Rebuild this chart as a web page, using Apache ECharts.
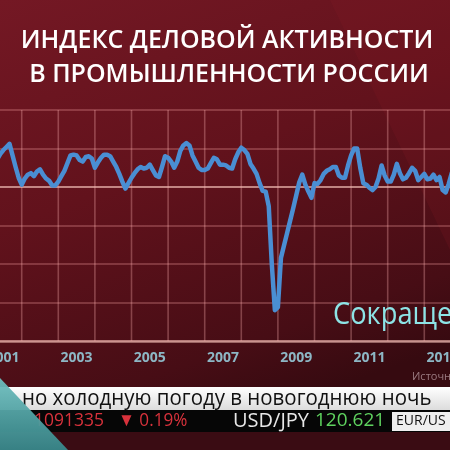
<!DOCTYPE html>
<html><head><meta charset="utf-8">
<script src="https://cdn.jsdelivr.net/npm/echarts@6/dist/echarts.min.js"></script>
<style>html,body{margin:0;padding:0;background:#5c111b}#c{width:450px;height:450px}</style>
</head><body><div id="c"></div>
<script>
// Monthly index values (50 = no change); Jan–Apr 2001 are off-screen
const startYear = 2001;
const pmi2001 = [null, null, null, null, 53.6, 54.3, 54.8, 55.2, 55.6, 54.1, 52.6, 51.2];
const pmi2002 = [50.3, 51.1, 51.6, 51.8, 51.4, 52.0, 52.3, 51.6, 51.1, 50.8, 50.2, 50.2];
const pmi2003 = [50.7, 51.4, 52.1, 53.1, 54.1, 54.2, 54.1, 53.5, 53.3, 53.9, 54.0, 53.7];
const pmi2004 = [52.5, 53.2, 53.8, 54.2, 54.2, 54.0, 53.3, 52.6, 51.7, 50.7, 49.8, 50.5];
const pmi2005 = [51.2, 51.8, 52.3, 52.6, 52.4, 52.5, 52.9, 52.2, 51.5, 51.3, 52.6, 54.0];
const pmi2006 = [53.8, 53.3, 52.5, 53.3, 54.7, 55.4, 55.7, 55.4, 54.1, 53.3, 52.5, 52.2];
const pmi2007 = [52.2, 52.4, 53.1, 53.8, 53.6, 52.9, 52.9, 52.8, 52.5, 52.4, 53.6, 54.5];
const pmi2008 = [55.1, 54.8, 54.3, 53.0, 52.4, 51.7, 50.5, 49.5, 49.4, 47.5, 40.0, 34.0];
const pmi2009 = [34.4, 40.8, 42.4, 44.0, 45.6, 47.2, 48.9, 50.6, 51.6, 50.3, 49.4, 48.6];
const pmi2010 = [50.5, 50.4, 50.9, 51.7, 52.1, 52.3, 52.6, 52.6, 51.5, 51.2, 51.2, 52.8];
const pmi2011 = [54.1, 55.0, 55.0, 52.5, 50.5, 50.3, 49.9, 49.6, 50.0, 51.1, 52.8, 51.5];
const pmi2012 = [50.7, 50.7, 51.6, 53.0, 51.8, 51.0, 51.2, 51.8, 52.5, 52.1, 50.9, 51.3];
const pmi2013 = [51.7, 51.0, 51.1, 51.6, 50.9, 51.3, 49.6, 49.3, 50.4, 51.8];
const values = [].concat(pmi2001, pmi2002, pmi2003, pmi2004, pmi2005, pmi2006, pmi2007,
  pmi2008, pmi2009, pmi2010, pmi2011, pmi2012, pmi2013);

const categories = [];
for (let i = 0; i < values.length; i++) {
  const y = startYear + Math.floor(i / 12), m = i % 12 + 1;
  categories.push(y + '-' + String(m).padStart(2, '0'));
}
const labelYears = ['2001', '2003', '2005', '2007', '2009', '2011', '2013'];
const gridYears = ['2002', '2003', '2004', '2005', '2006', '2007', '2008', '2009', '2010', '2011', '2012', '2013'];
const yTicks = [30, 35, 40, 45, 50, 55, 60];

const titleLines = ['ИНДЕКС ДЕЛОВОЙ АКТИВНОСТИ', 'В ПРОМЫШЛЕННОСТИ РОССИИ'];
const overlayWord = 'Сокраще';
const sourceText = 'Источн';
const bannerText = 'но холодную погоду в новогоднюю ночь';
const tickerItems = ['1091335', '▼ 0.19%', 'USD/JPY', '120.621', 'EUR/US'];

const faint = 'rgba(255,170,170,0.26)';
const vfaint = 'rgba(255,180,180,0.32)';
const bright = 'rgba(255,205,195,0.62)';

const chart = echarts.init(document.getElementById('c'), null, {renderer: 'canvas'});
chart.setOption({
  animation: false,
  backgroundColor: {
    type: 'linear', x: 0, y: 0, x2: 0.35, y2: 1,
    colorStops: [
      {offset: 0, color: '#741824'},
      {offset: 0.45, color: '#62121c'},
      {offset: 0.85, color: '#470d15'},
      {offset: 1, color: '#360a10'}
    ]
  },
  grid: {left: -14.9, right: -1.75, top: 110, bottom: 109, containLabel: false, outerBoundsMode: 'none'},
  xAxis: {
    type: 'category', data: categories, boundaryGap: false,
    axisTick: {show: false},
    axisLine: {lineStyle: {color: bright, width: 2.5}},
    axisLabel: {
      interval: (i, v) => v.endsWith('-07') && labelYears.includes(v.slice(0, 4)),
      formatter: v => v.slice(0, 4),
      color: '#8db7c5', fontSize: 14, fontWeight: 'bold', fontFamily: 'Open Sans', margin: 10
    },
    splitLine: {show: false}
  },
  yAxis: {
    type: 'value', min: yTicks[0], max: yTicks[yTicks.length - 1], interval: 5,
    axisLabel: {show: false}, axisLine: {show: false}, axisTick: {show: false},
    splitLine: {show: true, lineStyle: {
      color: yTicks.map(t => t === 50 ? bright : faint), width: 1.8}}
  },
  series: [{
    // yearly vertical gridlines (January of each year), positioned through the axis scales
    type: 'custom', z: 1, silent: true, clip: false,
    data: gridYears.map(y => [y + '-01', yTicks[yTicks.length - 1]]),
    encode: {x: 0, y: 1},
    renderItem: (params, api) => {
      const top = api.coord([api.value(0), yTicks[yTicks.length - 1]]);
      const bottom = api.coord([api.value(0), yTicks[0]]);
      return {type: 'rect', shape: {x: top[0] - 0.8, y: top[1], width: 1.6, height: bottom[1] - top[1]},
        style: {fill: vfaint}};
    }
  }, {
    type: 'line', data: values, symbol: 'none', z: 5, connectNulls: false,
    lineStyle: {color: '#4a8ed3', width: 4.5, join: 'round', cap: 'round'}
  }],
  graphic: [
    {type: 'polygon', z: -10, shape: {points: [[330, 0], [450, 0], [450, 250]]},
      style: {fill: 'rgba(140,30,40,0.18)'}},
    {type: 'text', z: 100, x: 227, y: 41, style: {text: titleLines[0], font: '600 25px "Open Sans"',
      fill: '#fff', textAlign: 'center', textVerticalAlign: 'middle', shadowBlur: 4, shadowColor: 'rgba(0,0,0,0.4)'}},
    {type: 'text', z: 100, x: 229, y: 75, style: {text: titleLines[1], font: '600 25px "Open Sans"',
      fill: '#fff', textAlign: 'center', textVerticalAlign: 'middle', shadowBlur: 4, shadowColor: 'rgba(0,0,0,0.4)'}},
    {type: 'text', z: 100, x: 333, y: 315, scaleX: 0.88, style: {text: overlayWord, font: '31px "Open Sans"',
      fill: '#8de4e6', textAlign: 'left', textVerticalAlign: 'middle'}},
    {type: 'text', z: 100, x: 412, y: 377, style: {text: sourceText, font: '11px "Open Sans"',
      fill: '#9a7a80', textAlign: 'left', textVerticalAlign: 'middle'}},
    {type: 'rect', z: 100, shape: {x: 0, y: 387, width: 450, height: 23},
      style: {fill: {type: 'linear', x: 0, y: 0, x2: 0, y2: 1,
        colorStops: [{offset: 0, color: '#ffffff'}, {offset: 1, color: '#dcdcdc'}]}}},
    {type: 'text', z: 101, x: 22, y: 399, scaleX: 0.93, style: {text: bannerText, font: '500 22px "Open Sans"',
      fill: '#111', textAlign: 'left', textVerticalAlign: 'middle'}},
    {type: 'rect', z: 100, shape: {x: 0, y: 410, width: 450, height: 22}, style: {fill: '#060606'}},
    {type: 'rect', z: 100, shape: {x: 0, y: 432, width: 450, height: 18}, style: {fill: '#3a0c13'}},
    {type: 'text', z: 101, x: 34, y: 421, scaleX: 0.92, style: {text: tickerItems[0], font: '19px "Open Sans"',
      fill: '#d8323c', textAlign: 'left', textVerticalAlign: 'middle'}},
    {type: 'text', z: 101, x: 118, y: 421, scaleX: 0.9, style: {text: tickerItems[1], font: '19px "Open Sans"',
      fill: '#d8323c', textAlign: 'left', textVerticalAlign: 'middle'}},
    {type: 'text', z: 101, x: 233, y: 421, style: {text: tickerItems[2], font: '20px "Open Sans"',
      fill: '#e8e8e8', textAlign: 'left', textVerticalAlign: 'middle'}},
    {type: 'text', z: 101, x: 315, y: 421, style: {text: tickerItems[3], font: '19px "Open Sans"',
      fill: '#5fd35f', textAlign: 'left', textVerticalAlign: 'middle'}},
    {type: 'rect', z: 101, shape: {x: 392, y: 412, width: 60, height: 19}, style: {fill: '#efefef'}},
    {type: 'text', z: 102, x: 396, y: 421.5, style: {text: tickerItems[4], font: '14px "Open Sans"',
      fill: '#111', textAlign: 'left', textVerticalAlign: 'middle'}},
    {type: 'polygon', z: 110, shape: {points: [[0, 378], [68, 450], [0, 450]]},
      style: {fill: {type: 'linear', x: 0, y: 0, x2: 0, y2: 1,
        colorStops: [{offset: 0, color: 'rgba(110,190,190,0.95)'}, {offset: 1, color: 'rgba(55,135,138,0.95)'}]}}}
  ]
});
</script></body></html>
